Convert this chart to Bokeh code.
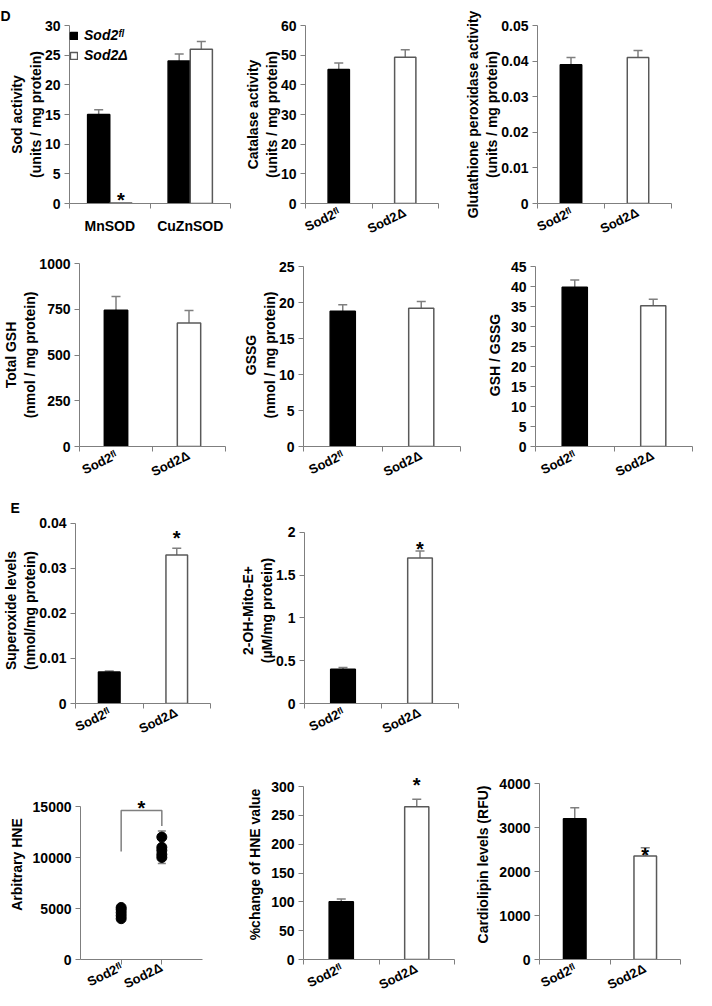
from bokeh.plotting import figure
from bokeh.layouts import row, column
from bokeh.models import (Range1d, FixedTicker, ColumnDataSource, Whisker, TeeHead,
                          Label, Legend, LegendItem, Spacer)
from bokeh.embed import file_html
from bokeh.resources import INLINE

FONT = "Liberation Sans"
GRAY = "#7f7f7f"
EDGE = "#595959"

# ---------------- data ----------------
FL = "Sod2ᶠˡ"
DL = "Sod2Δ"
genotypes = [FL, DL]

sod_categories = ["MnSOD", "CuZnSOD"]
sod_fl = [15.0, 24.0]
sod_fl_err = [0.8, 1.2]
sod_dl = [0.1, 26.0]
sod_dl_err = [0.0, 1.3]
sod_yticks = [0, 5, 10, 15, 20, 25, 30]

catalase = [45.2, 49.3]
catalase_err = [2.2, 2.5]
catalase_yticks = [0, 10, 20, 30, 40, 50, 60]

gpx = [0.039, 0.041]
gpx_err = [0.002, 0.002]
gpx_yticks = [0, 0.01, 0.02, 0.03, 0.04, 0.05]
gpx_ylabels = ["0", "0.01", "0.02", "0.03", "0.04", "0.05"]

total_gsh = [745, 675]
total_gsh_err = [75, 68]
total_gsh_yticks = [0, 250, 500, 750, 1000]

gssg = [18.8, 19.2]
gssg_err = [0.9, 0.95]
gssg_yticks = [0, 5, 10, 15, 20, 25]

gsh_gssg = [39.8, 35.2]
gsh_gssg_err = [1.8, 1.6]
gsh_gssg_yticks = [0, 5, 10, 15, 20, 25, 30, 35, 40, 45]

superoxide = [0.007, 0.033]
superoxide_err = [0.0002, 0.0015]
superoxide_yticks = [0, 0.01, 0.02, 0.03, 0.04]
superoxide_ylabels = ["0", "0.01", "0.02", "0.03", "0.04"]

mito = [0.40, 1.70]
mito_err = [0.02, 0.08]
mito_yticks = [0, 0.5, 1, 1.5, 2]
mito_ylabels = ["0", "0.5", "1", "1.5", "2"]

hne_fl_points = [4000, 4300, 4600, 4900, 5100]
hne_dl_points = [10000, 10300, 10700, 11000, 12000]
hne_mean = [4500, 11000]
hne_err = [450, 1600]
hne_yticks = [0, 5000, 10000, 15000]
hne_bracket = [10600, 14600, 14600, 13100]

hne_pct = [100, 265]
hne_pct_err = [5, 13]
hne_pct_yticks = [0, 50, 100, 150, 200, 250, 300]

cardiolipin = [3200, 2350]
cardiolipin_err = [250, 190]
cardiolipin_yticks = [0, 1000, 2000, 3000, 4000]

# ---------------- layout geometry (pixels) ----------------
# rows: (height, top border, bottom border) -- identical borders within a row
ROW1 = (245, 25, 40)
ROW2 = (243, 18, 42)
ROW3 = (257, 29, 39)
ROW4 = (257, 24, 43)


# ---------------- helpers ----------------
def style_axis(ax, size="14px"):
    ax.axis_line_color = GRAY
    ax.axis_line_width = 1
    ax.major_tick_line_color = GRAY
    ax.minor_tick_line_color = GRAY
    ax.major_label_text_font = FONT
    ax.major_label_text_font_style = "bold"
    ax.major_label_text_font_size = size
    ax.major_label_text_color = "black"
    ax.axis_label_text_font = FONT
    ax.axis_label_text_font_style = "bold"
    ax.axis_label_text_font_size = "14px"
    ax.axis_label_text_color = "black"


def base_fig(rowg, colg, ymax, yticks, ylabels, ylabel, xr=(0, 2)):
    h, t, b = rowg
    w, l, r, pad = colg
    fh = h - t - b
    top_val = ymax * fh / (fh - pad)
    p = figure(width=w, height=h, x_range=Range1d(*xr), y_range=Range1d(0, top_val),
               output_backend="svg", toolbar_location=None,
               min_border_left=l, min_border_right=r, min_border_top=t,
               min_border_bottom=b)
    p.xgrid.visible = False
    p.ygrid.visible = False
    p.outline_line_color = None
    p.background_fill_color = "white"
    p.border_fill_color = "white"
    ya = p.yaxis[0]
    style_axis(ya)
    ya.bounds = (0, ymax)
    ya.ticker = FixedTicker(ticks=yticks)
    ya.major_label_overrides = {t_: str(lb) for t_, lb in zip(yticks, ylabels)}
    ya.major_tick_out = 5
    ya.major_tick_in = 0
    ya.minor_tick_out = 0
    ya.minor_tick_in = 0
    ya.major_label_standoff = 4
    ya.axis_label = ylabel
    ya.axis_label_standoff = -2 if "\n" in ylabel else 5
    xa = p.xaxis[0]
    style_axis(xa, "13px")
    return p


def cat_xaxis(p, labels, rotate=True):
    xa = p.xaxis[0]
    centers = [i + 0.5 for i in range(len(labels))]
    xa.ticker = FixedTicker(ticks=centers, minor_ticks=list(range(len(labels) + 1)))
    xa.major_label_overrides = {c: lb for c, lb in zip(centers, labels)}
    xa.major_tick_out = 0
    xa.major_tick_in = 0
    xa.minor_tick_out = 5
    xa.minor_tick_in = 0
    if rotate:
        xa.major_label_orientation = 0.45
        xa.major_label_standoff = 3
    else:
        xa.major_label_text_font_size = "14px"
        xa.major_label_standoff = 9


def add_stars(p, xs, ys, dy=3):
    for x, y in zip(xs, ys):
        p.add_layout(Label(x=x, y=y, text="*", text_align="center", text_baseline="alphabetic",
                           y_offset=dy, text_font=FONT, text_font_size="20px",
                           text_font_style="bold", text_color="black"))


def bar_panel(rowg, colg, vals, errs, ymax, yticks, ylabels, ylabel, star_idx=(), star_dy=3):
    p = base_fig(rowg, colg, ymax, yticks, ylabels, ylabel)
    xs = [i + 0.5 for i in range(len(vals))]
    src = ColumnDataSource(dict(x=xs, top=vals, upper=[v + e for v, e in zip(vals, errs)],
                                fill=["black", "white"], line=["black", EDGE]))
    p.vbar(x="x", top="top", bottom=0, width=0.32, source=src,
           fill_color="fill", line_color="line", line_width=1.5)
    p.add_layout(Whisker(source=src, base="x", lower="top", upper="upper",
                         line_color=GRAY, line_width=1.5, lower_head=None,
                         upper_head=TeeHead(size=9, line_color=GRAY, line_width=1.5)))
    cat_xaxis(p, genotypes)
    if star_idx:
        add_stars(p, [xs[i] for i in star_idx],
                  [vals[i] + errs[i] for i in star_idx], star_dy)
    return p


def panel_letter(p, l, letter):
    p.title.text = letter
    p.title.align = "left"
    p.title.offset = -l
    p.title.vertical_align = "top"
    p.title.standoff = 0
    p.title.text_font = FONT
    p.title.text_font_size = "14px"
    p.title.text_font_style = "bold"
    p.title.text_color = "black"


# ---------------- panel D, row 1 ----------------
c1 = (232, 69, 2, 0)
p1 = base_fig(ROW1, c1, 30, sod_yticks, sod_yticks, "Sod activity\n(units / mg protein)")
BW = 0.275
x_fl = [i + 0.5 - BW / 2 for i in range(len(sod_categories))]
x_dl = [i + 0.5 + BW / 2 for i in range(len(sod_categories))]
s_fl = ColumnDataSource(dict(x=x_fl, top=sod_fl, upper=[v + e for v, e in zip(sod_fl, sod_fl_err)]))
s_dl = ColumnDataSource(dict(x=x_dl, top=sod_dl, upper=[v + e for v, e in zip(sod_dl, sod_dl_err)]))
r_fl = p1.vbar(x="x", top="top", bottom=0, width=BW, source=s_fl,
               fill_color="black", line_color="black", line_width=1.5)
r_dl = p1.vbar(x="x", top="top", bottom=0, width=BW, source=s_dl,
               fill_color="white", line_color=EDGE, line_width=1.5)
for src, errs in ((s_fl, sod_fl_err), (s_dl, sod_dl_err)):
    keep = [i for i, e in enumerate(errs) if e > 0]
    ws = ColumnDataSource(dict(x=[src.data["x"][i] for i in keep],
                               top=[src.data["top"][i] for i in keep],
                               upper=[src.data["upper"][i] for i in keep]))
    p1.add_layout(Whisker(source=ws, base="x", lower="top", upper="upper",
                          line_color=GRAY, line_width=1.5, lower_head=None,
                          upper_head=TeeHead(size=9, line_color=GRAY, line_width=1.5)))
cat_xaxis(p1, sod_categories, rotate=False)
add_stars(p1, [x_dl[0]], [sod_dl[0]], 3)
leg = Legend(items=[LegendItem(label=FL, renderers=[r_fl]), LegendItem(label=DL, renderers=[r_dl])],
             location="top_left", margin=0, padding=6, spacing=0,
             glyph_width=9, glyph_height=9, label_standoff=6, label_height=20,
             label_text_font=FONT, label_text_font_style="bold italic", label_text_color="black",
             label_text_font_size="14px", background_fill_alpha=0, border_line_color=None)
p1.add_layout(leg)
panel_letter(p1, c1[1], "D")

p2 = bar_panel(ROW1, (230, 73, 24, 0), catalase, catalase_err, 60, catalase_yticks,
               catalase_yticks, "Catalase activity\n(units / mg protein)")
p3 = bar_panel(ROW1, (234, 72, 25, 0), gpx, gpx_err, 0.05, gpx_yticks, gpx_ylabels,
               "Glutathione peroxidase activity\n(units / mg protein)")

# ---------------- row 2 ----------------
p4 = bar_panel(ROW2, (232, 69, 7, 0), total_gsh, total_gsh_err, 1000, total_gsh_yticks,
               total_gsh_yticks, "Total GSH\n(nmol / mg protein)")
p5 = bar_panel(ROW2, (230, 71, 2, 3), gssg, gssg_err, 25, gssg_yticks, gssg_yticks,
               "GSSG\n(nmol / mg protein)")
p6 = bar_panel(ROW2, (234, 73, 4, 3), gsh_gssg, gsh_gssg_err, 45, gsh_gssg_yticks,
               gsh_gssg_yticks, "GSH / GSSG")

# ---------------- panel E, row 3 ----------------
c7 = (232, 65, 22, 6)
p7 = bar_panel(ROW3, c7, superoxide, superoxide_err, 0.04, superoxide_yticks,
               superoxide_ylabels, "Superoxide levels\n(nmol/mg protein)",
               star_idx=(1,), star_dy=10)
panel_letter(p7, c7[1], "E")
p8 = bar_panel(ROW3, (230, 72, 4, 15), mito, mito_err, 2, mito_yticks, mito_ylabels,
               "2-OH-Mito-E+\n(µM/mg protein)", star_idx=(1,), star_dy=2)

# ---------------- row 4 ----------------
p9 = base_fig(ROW4, (232, 80, 30, 37), 15000, hne_yticks, hne_yticks, "Arbitrary HNE",
              xr=(0, 3))
xa9 = p9.xaxis[0]
xa9.ticker = FixedTicker(ticks=[1, 2])
xa9.major_label_overrides = {1: FL, 2: DL}
xa9.major_tick_out = 5
xa9.major_tick_in = 0
xa9.minor_tick_out = 0
xa9.minor_tick_in = 0
xa9.major_label_orientation = 0.45
xa9.major_label_standoff = 2
ws9 = ColumnDataSource(dict(x=[1, 2], lower=[m - e for m, e in zip(hne_mean, hne_err)],
                            upper=[m + e for m, e in zip(hne_mean, hne_err)]))
p9.add_layout(Whisker(source=ws9, base="x", lower="lower", upper="upper",
                      line_color=GRAY, line_width=1.5,
                      lower_head=TeeHead(size=8, line_color=GRAY, line_width=1.5),
                      upper_head=TeeHead(size=8, line_color=GRAY, line_width=1.5)))
p9.scatter(x=[1] * len(hne_fl_points), y=hne_fl_points, size=10, color="black")
p9.scatter(x=[2] * len(hne_dl_points), y=hne_dl_points, size=10, color="black")
p9.line(x=[1, 1, 2, 2], y=hne_bracket, line_color=GRAY, line_width=1.5)
add_stars(p9, [1.5], [max(hne_bracket)], 3)

p10 = bar_panel(ROW4, (230, 71, 8, 17), hne_pct, hne_pct_err, 300, hne_pct_yticks,
                hne_pct_yticks, "%change of HNE value", star_idx=(1,), star_dy=14)
p11 = bar_panel(ROW4, (234, 77, 16, 14), cardiolipin, cardiolipin_err, 4000,
                cardiolipin_yticks, cardiolipin_yticks, "Cardiolipin levels (RFU)",
                star_idx=(1,), star_dy=-7)

layout = column(
    row(p1, p2, p3),
    row(p4, p5, p6),
    row(p7, p8, Spacer(width=234, height=ROW3[0])),
    row(p9, p10, p11),
)

open("out.html", "w").write(file_html(layout, INLINE))
